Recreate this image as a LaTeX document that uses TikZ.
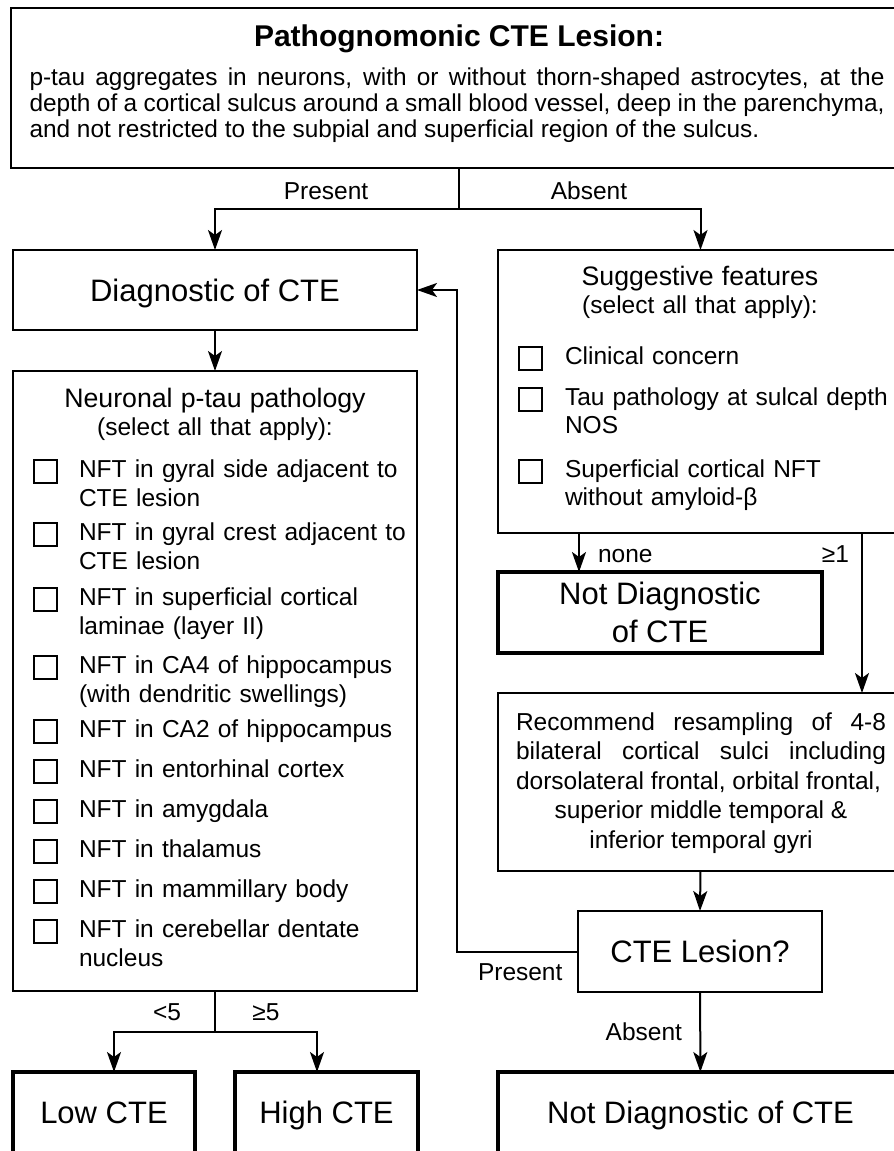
\documentclass[tikz,border=0pt]{standalone}
\usepackage{fontspec}
\setmainfont{Liberation Sans}
\usepackage{tikz}
\usetikzlibrary{positioning, arrows.meta}

\begin{document}
\begin{tikzpicture}[x=1pt, y=-1pt, line width=2pt, >={Stealth[length=20pt, width=14pt, inset=5pt]}]
        % Définition des styles
        \tikzstyle{block} = [draw, rectangle, line width=2pt, inner sep=0pt, outer sep=0pt]
        \tikzstyle{final} = [draw, rectangle, line width=4pt, inner sep=0pt, outer sep=0pt, text height=51pt, text depth=40pt, font=\fontsize{31}{38}\selectfont]
        \tikzstyle{bigtext} = [font=\fontsize{31}{38}\selectfont]
        \tikzstyle{check} = [draw, rectangle, line width=2pt, minimum size=23pt, inner sep=0pt]
        \tikzstyle{entry} = [anchor=base west, text width=338pt, align=left, inner sep=0pt, font=\fontsize{24.5}{29}\selectfont]
        \tikzstyle{heading} = [anchor=base, text width=400pt, align=center, inner sep=0pt, font=\fontsize{24.5}{28}\selectfont]
        \tikzstyle{note} = [inner sep=0pt, font=\fontsize{24.5}{29}\selectfont]

        % Cadre de la figure
        \useasboundingbox (0,0) rectangle (894,1151);
        \clip (0,0) rectangle (894,1151);

        % Bloc du haut : lésion pathognomonique
        \node [block, minimum width=895pt, minimum height=160pt] (patho) at (458.5,88) {};
        \node [inner sep=0pt, anchor=base, font=\fontsize{30}{36}\selectfont\bfseries] (titre) at (459,46) {Pathognomonic CTE Lesion:};
        \node [note, anchor=base west, text width=855pt, align=justify, font=\fontsize{24.4}{26}\selectfont] (defn) at (28.5,85) {p-tau aggregates in neurons, with or without thorn-shaped astrocytes, at the\linebreak depth of a cortical sulcus around a small blood vessel, deep in the parenchyma,\linebreak and not restricted to the subpial and superficial region of the sulcus.};

        % Colonne de gauche
        \node [block, bigtext, text depth=0pt, minimum width=404pt, minimum height=80pt] (diag) at (215,290) {Diagnostic of CTE};
        \node [block, minimum width=404pt, minimum height=620pt] (neuro) at (215,681) {};
        \node [heading] (titreN) at (215,407) {{\fontsize{26.7}{28}\selectfont Neuronal p-tau pathology}\\(select all that apply):};

        % Liste des NFT
        \node [entry] (it1) at (78,477) {NFT in gyral side adjacent to\\CTE lesion};
        \node [entry] (it2) at (78,540) {NFT in gyral crest adjacent to\\CTE lesion};
        \node [entry] (it3) at (78,605) {NFT in superficial cortical\\laminae (layer II)};
        \node [entry] (it4) at (78,673) {NFT in CA4 of hippocampus\\(with dendritic swellings)};
        \node [entry] (it5) at (78,737) {NFT in CA2 of hippocampus};
        \node [entry] (it6) at (78,777) {NFT in entorhinal cortex};
        \node [entry] (it7) at (78,817) {NFT in amygdala};
        \node [entry] (it8) at (78,857) {NFT in thalamus};
        \node [entry] (it9) at (78,897) {NFT in mammillary body};
        \node [entry] (it10) at (78,937) {NFT in cerebellar dentate\\nucleus};

        % Cases à cocher (gauche)
        \node [check] (c1) at ([xshift=-32.5pt, yshift=6pt]it1.base west) {};
        \node [check] (c2) at ([xshift=-32.5pt, yshift=6pt]it2.base west) {};
        \node [check] (c3) at ([xshift=-32.5pt, yshift=6pt]it3.base west) {};
        \node [check] (c4) at ([xshift=-32.5pt, yshift=6pt]it4.base west) {};
        \node [check] (c5) at ([xshift=-32.5pt, yshift=6pt]it5.base west) {};
        \node [check] (c6) at ([xshift=-32.5pt, yshift=6pt]it6.base west) {};
        \node [check] (c7) at ([xshift=-32.5pt, yshift=6pt]it7.base west) {};
        \node [check] (c8) at ([xshift=-32.5pt, yshift=6pt]it8.base west) {};
        \node [check] (c9) at ([xshift=-32.5pt, yshift=6pt]it9.base west) {};
        \node [check] (c10) at ([xshift=-32.5pt, yshift=6pt]it10.base west) {};

        % Blocs finaux (gauche)
        \node [final, minimum width=182pt, anchor=north] (low) at (104,1072) {Low CTE};
        \node [final, minimum width=183pt, anchor=north] (high) at (326.5,1072) {High CTE};

        % Colonne de droite : signes suggestifs
        \node [block, minimum width=405pt, minimum height=283pt] (sugg) at (700.5,391.5) {};
        \node [heading] (titreS) at (700,285) {{\fontsize{26.7}{28}\selectfont Suggestive features}\\(select all that apply):};
        \node [entry, font=\fontsize{24.5}{28}\selectfont] (sf1) at (564,364) {Clinical concern};
        \node [entry, font=\fontsize{24.5}{28}\selectfont] (sf2) at (564,405) {Tau pathology at sulcal depth\\NOS};
        \node [entry, font=\fontsize{24.5}{28}\selectfont] (sf3) at (564,477) {Superficial cortical NFT\\without amyloid-β};
        \node [check] (s1) at ([xshift=-33.5pt, yshift=6pt]sf1.base west) {};
        \node [check] (s2) at ([xshift=-33.5pt, yshift=6pt]sf2.base west) {};
        \node [check] (s3) at ([xshift=-33.5pt, yshift=6pt]sf3.base west) {};

        % Non diagnostique / rééchantillonnage
        \node [block, bigtext, line width=4pt, align=center, minimum width=324pt, minimum height=81pt] (nondiag) at (660,612.5) {Not Diagnostic\\of CTE};
        \node [block, minimum width=405pt, minimum height=178pt] (reco) at (700.5,782) {};
        \node [note, anchor=base west, text width=370pt, align=justify, font=\fontsize{24.5}{29.5}\selectfont] (recotxt) at (515,730) {Recommend resampling of 4-8\linebreak bilateral cortical sulci including\linebreak dorsolateral frontal, orbital frontal,\par\centering superior middle temporal \&\linebreak inferior temporal gyri\par};
        \node [block, bigtext, text depth=0pt, minimum width=244pt, minimum height=81pt] (cte) at (700,951.5) {CTE Lesion?};
        \node [final, minimum width=405pt, anchor=north] (nondiag2) at (700.5,1072) {Not Diagnostic of CTE};

        % Étiquettes des branches
        \node [note, anchor=base] (oui) at (326,199) {Present};
        \node [note, anchor=base] (non) at (589,199) {Absent};
        \node [note, anchor=base west] (aucun) at (597,562) {none};
        \node [note, anchor=base east] (unPlus) at (850,562) {≥1};
        \node [note, anchor=base] (moins5) at (167,1020) {<5};
        \node [note, anchor=base] (plus5) at (266,1020) {≥5};
        \node [note, anchor=base west] (oui2) at (477,980) {Present};
        \node [note, anchor=base east] (non2) at (683,1040) {Absent};

        % Connexions principales
        \coordinate (split) at ([yshift=-41pt]patho.south);
        \draw (patho.south) -- (split);
        \draw [->] (split) -| (diag.north);
        \draw [->] (split) -| (sugg.north);
        \draw [->] (diag) -- (neuro);

        % Séparation <5 / >=5
        \coordinate (split2) at ([yshift=-41pt]neuro.south);
        \draw (neuro.south) -- (split2);
        \draw [->] (split2) -| ([xshift=10pt]low.north);
        \draw [->] (split2) -| ([xshift=-9.5pt]high.north);

        % Branches de droite
        \draw [->] ([xshift=81pt]sugg.south west) -- ([xshift=81pt]nondiag.north west);
        \draw [->] ([xshift=161.5pt]sugg.south) -- ([xshift=161.5pt]reco.north);
        \draw [->] (reco.south) -- (cte.north);
        \draw [->] (cte) -- (nondiag2);

        % Boucle de retour vers le diagnostic
        \draw [->] (cte.west) -| ([xshift=40pt]diag.east) -- (diag.east);

    \end{tikzpicture}
\end{document}
